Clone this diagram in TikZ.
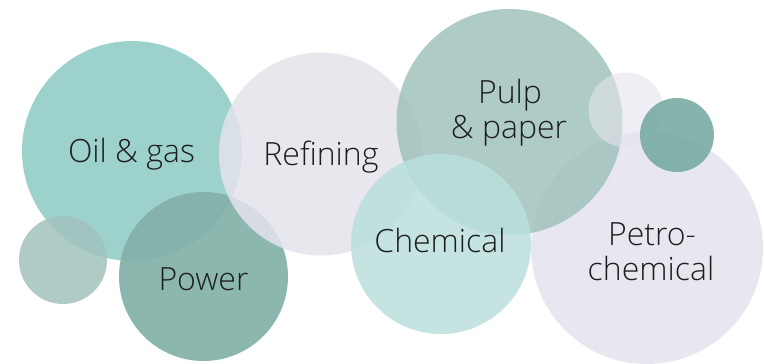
\documentclass[tikz,border=0pt]{standalone}
\usepackage{fontspec}
\setmainfont{Open Sans Light}
\definecolor{cOil}{RGB}{140,203,196}
\definecolor{cRef}{RGB}{228,227,235}
\definecolor{cPulp}{RGB}{160,194,188}
\definecolor{cChem}{RGB}{186,223,220}
\definecolor{cPow}{RGB}{131,177,169}
\definecolor{cSmL}{RGB}{161,194,189}
\definecolor{cPet}{RGB}{228,227,237}
\definecolor{cDark}{RGB}{113,168,158}
\definecolor{cLight}{RGB}{230,228,237}
\definecolor{txt}{RGB}{30,30,30}
\tikzset{
  bubble/.style={circle, inner sep=0pt, fill opacity=0.85, draw=none},
  lbl/.style={text=txt, font=\fontsize{32}{35}\selectfont, anchor=base, inner sep=0pt}
}
\begin{document}
\begin{tikzpicture}[x=1pt,y=-1pt]
\useasboundingbox (0,0) rectangle (764,364);
\fill[white] (0,0) rectangle (764,364);
\node[bubble, fill=cPet, minimum size=232pt] (petro) at (647,248) {};
\node[bubble, fill=cOil, minimum size=220pt] (oil) at (132,151) {};
\node[bubble, fill=cSmL, minimum size=88pt] (small) at (63,260) {};
\node[bubble, fill=cPow, fill opacity=0.92, minimum size=169pt] (power) at (203.5,276.5) {};
\node[bubble, fill=cRef, minimum size=203pt] (refining) at (320.5,154) {};
\node[bubble, fill=cPulp, minimum size=226pt] (pulp) at (509.5,122) {};
\node[bubble, fill=cChem, minimum size=180pt] (chem) at (441,244) {};
\node[bubble, fill=cLight, fill opacity=0.6, minimum size=75pt] (light) at (626,110) {};
\node[bubble, fill=cDark, minimum size=74pt] (dark) at (677,135) {};

\node[lbl] (toil) at (131.5,162) {Oil \& gas};
\node[lbl] (tref) at (321,165) {Refining};
\node[lbl] (tpow) at (203.5,290) {Power};
\node[lbl] (tpulp1) at (510,103) {Pulp};
\node[lbl] (tpulp2) at (509,138) {\& paper};
\node[lbl] (tchem) at (440,252) {Chemical};
\node[lbl] (tpet1) at (652,245) {Petro-};
\node[lbl] (tpet2) at (651,280) {chemical};
\end{tikzpicture}
\end{document}
